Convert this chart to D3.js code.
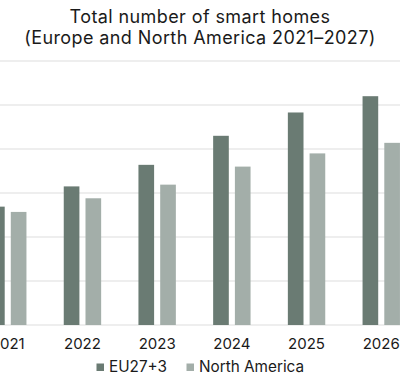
<!DOCTYPE html>
<html><head><meta charset="utf-8">
<script src="https://cdn.jsdelivr.net/npm/d3@7"></script>
<style>
html,body{margin:0;padding:0;background:#fff;}
svg{display:block;font-family:Inter, "Noto Sans", sans-serif;}
</style></head>
<body>
<svg id="chart" width="400" height="382"></svg>
<script>
const years = ["2021","2022","2023","2024","2025","2026","2027"];
const seriesNames = ["EU27+3","North America"];
const eu = [26.9, 31.5, 36.4, 43.0, 48.3, 52.0, 55.5];
const na = [25.7, 28.8, 31.9, 36.0, 39.0, 41.4, 43.5];
const yTicks = [0,10,20,30,40,50,60];
const colors = ["#6a7b73","#a3aea9"];

const svg = d3.select("#chart");
const baseY = 325, topY = 61;
const y = d3.scaleLinear().domain([0,60]).range([baseY, topY]);
const x = d3.scaleBand().domain(years).range([-29.6, 493.3]).paddingInner(0).paddingOuter(0);
const x1 = d3.scaleBand().domain(seriesNames).range([0, 37.4]).paddingInner(0.28);

// gridlines
svg.append("g").selectAll("line").data(yTicks).join("line")
  .attr("x1",0).attr("x2",400)
  .attr("y1",d=>y(d)).attr("y2",d=>y(d))
  .attr("stroke","#e9e9e9").attr("stroke-width",1.5);

const groups = svg.append("g").selectAll("g").data(years).join("g")
  .attr("transform",d=>`translate(${x(d)+ (x.bandwidth()-37.4)/2},0)`);
groups.selectAll("rect").data((d,i)=>[{s:seriesNames[0],v:eu[i]},{s:seriesNames[1],v:na[i]}]).join("rect")
  .attr("x",d=>x1(d.s)).attr("width",x1.bandwidth())
  .attr("y",d=>y(d.v)).attr("height",d=>baseY-y(d.v))
  .attr("fill",(d,i)=>colors[i]);

// x axis
const xAxis = d3.axisBottom(x).tickSize(0).tickPadding(13);
const gx = svg.append("g").attr("transform",`translate(0,${baseY})`).call(xAxis);
gx.select(".domain").remove();
gx.selectAll("text").attr("font-family","Inter, sans-serif").attr("font-size",15).attr("fill","#1a1a1a");

// title
const title = svg.append("text").attr("text-anchor","middle").attr("font-size",18).attr("letter-spacing",0.4).attr("fill","#1a1a1a");
title.append("tspan").attr("x",200).attr("y",23).text("Total number of smart homes");
title.append("tspan").attr("x",200).attr("y",44).text("(Europe and North America 2021–2027)");

// legend
const legX = [96.5, 186.5];
const leg = svg.append("g").selectAll("g").data(seriesNames).join("g")
  .attr("transform",(d,i)=>`translate(${legX[i]},0)`);
leg.append("rect").attr("x",0).attr("y",363.5).attr("width",7.5).attr("height",7.5).attr("fill",(d,i)=>colors[i]);
leg.append("text").attr("x",12.5).attr("y",372).attr("font-size",15.3).attr("fill","#1a1a1a").text(d=>d);
</script>
</body></html>
